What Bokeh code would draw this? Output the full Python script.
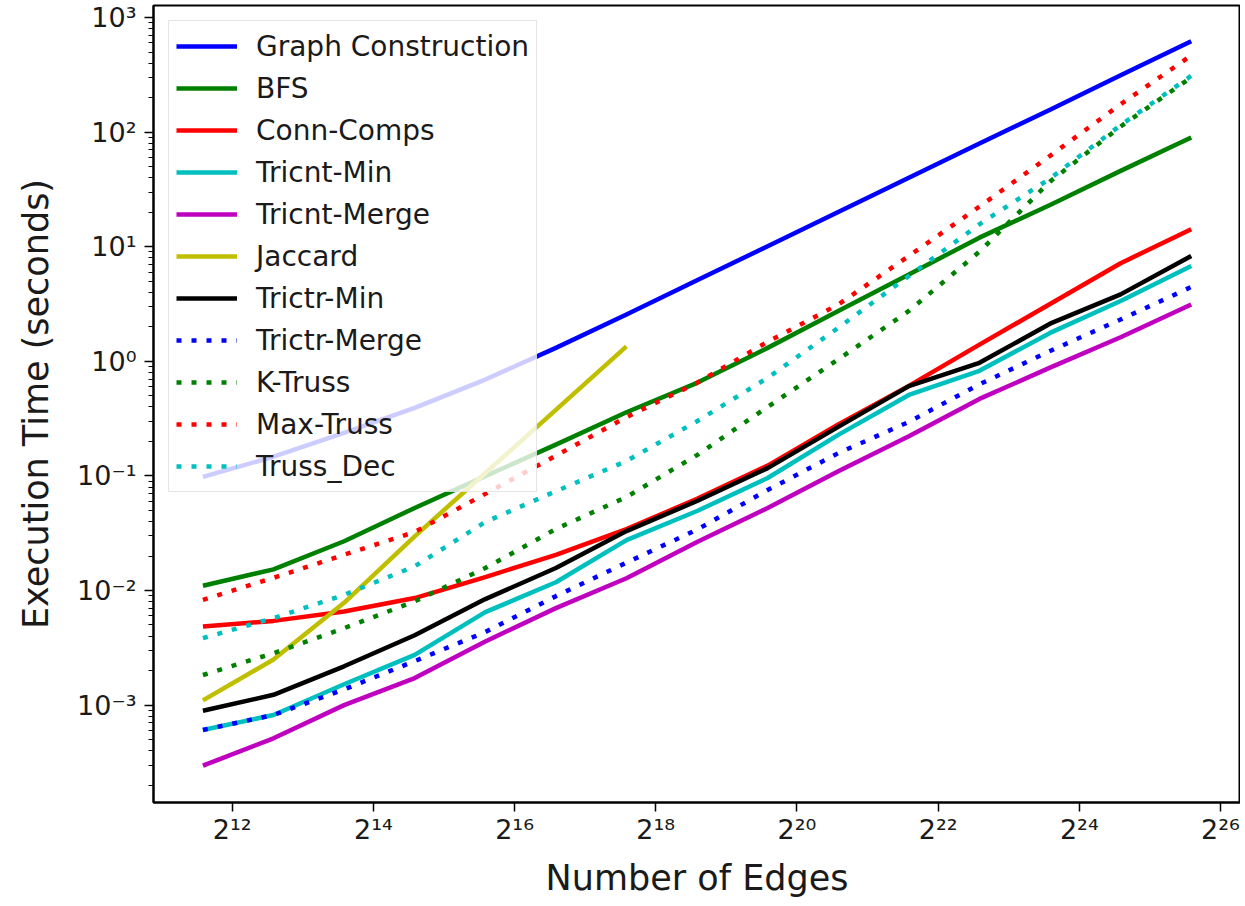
from bokeh.plotting import figure
from bokeh.models import FixedTicker, Legend, LegendItem, Range1d
from bokeh.embed import file_html
from bokeh.resources import INLINE

# ---- data ----
edges = [3072, 6144, 12288, 24576, 49152, 98304, 196608, 393216, 786432,
         1572864, 3145728, 6291456, 12582912, 25165824, 50331648]

graph_construction = [0.098, 0.147, 0.237, 0.393, 0.693, 1.31, 2.56, 5.1, 10.1,
                      20.1, 40.0, 79.5, 157, 314, 621]
bfs = [0.011, 0.0153, 0.0269, 0.0525, 0.0995, 0.1875, 0.359, 0.649, 1.31,
       2.75, 5.73, 12.0, 23.1, 45.9, 89.7]
conn_comps = [0.00485, 0.00543, 0.00656, 0.00859, 0.0131, 0.0205, 0.0344, 0.063,
              0.123, 0.281, 0.61, 1.40, 3.16, 7.18, 14.2]
tricnt_min = [0.000607, 0.00082, 0.00152, 0.00274, 0.00647, 0.0118, 0.0275, 0.0494,
              0.0959, 0.228, 0.509, 0.826, 1.77, 3.36, 6.79]
tricnt_merge = [0.000296, 0.000513, 0.00100, 0.00172, 0.00359, 0.00702, 0.0128, 0.0265,
                0.0525, 0.110, 0.222, 0.47, 0.88, 1.62, 3.13]
jaccard = [0.0011, 0.0025, 0.0078, 0.0297, 0.106, 0.377, 1.35]
trictr_min = [0.000893, 0.00123, 0.00218, 0.00407, 0.00841, 0.0157, 0.033, 0.0604,
              0.117, 0.268, 0.607, 0.97, 2.13, 3.84, 8.3]
trictr_merge = [0.000607, 0.00082, 0.00137, 0.00242, 0.00434, 0.00893, 0.0175, 0.034,
                0.0753, 0.158, 0.296, 0.63, 1.23, 2.32, 4.45]
k_truss = [0.00183, 0.00284, 0.00469, 0.00804, 0.0157, 0.0344, 0.0655, 0.152,
           0.40, 1.04, 2.75, 9.06, 37.0, 112, 300]
max_truss = [0.0083, 0.0129, 0.0205, 0.0324, 0.0697, 0.150, 0.326, 0.649,
             1.48, 3.13, 8.3, 22.4, 62.1, 175, 467]
truss_dec = [0.00384, 0.00574, 0.00916, 0.01626, 0.0396, 0.0735, 0.135, 0.30,
             0.718, 1.96, 5.55, 15.7, 39.4, 115, 310]

x_tick_exps = [12, 14, 16, 18, 20, 22, 24, 26]
x_tick_labels = ["2¹²", "2¹⁴", "2¹⁶", "2¹⁸", "2²⁰", "2²²", "2²⁴", "2²⁶"]
y_ticks = [1e-3, 1e-2, 1e-1, 1.0, 10.0, 100.0, 1000.0]
y_tick_labels = ["10⁻³", "10⁻²", "10⁻¹", "10⁰", "10¹", "10²", "10³"]

series = [
    ("Graph Construction", graph_construction, "#0000ff", None),
    ("BFS", bfs, "#008000", None),
    ("Conn-Comps", conn_comps, "#ff0000", None),
    ("Tricnt-Min", tricnt_min, "#00bfbf", None),
    ("Tricnt-Merge", tricnt_merge, "#bf00bf", None),
    ("Jaccard", jaccard, "#bfbf00", None),
    ("Trictr-Min", trictr_min, "#000000", None),
    ("Trictr-Merge", trictr_merge, "#0000ff", "5 10"),
    ("K-Truss", k_truss, "#008000", "5 10"),
    ("Max-Truss", max_truss, "#ff0000", "5 10"),
    ("Truss_Dec", truss_dec, "#00bfbf", "5 10"),
]

FONT = "DejaVu Sans"

p = figure(width=1240, height=900, x_axis_type="log", y_axis_type="log",
           x_range=Range1d(2 ** 10.885, 2 ** 26.283),
           y_range=Range1d(10 ** -3.85, 10 ** 3.105),
           output_backend="svg", toolbar_location=None,
           min_border_left=153, min_border_right=0, min_border_top=5,
           min_border_bottom=80)

p.background_fill_color = "white"
p.border_fill_color = "white"
p.outline_line_color = "black"
p.outline_line_width = 2
p.xgrid.visible = False
p.ygrid.visible = False

items = []
for name, ys, color, dash in series:
    xs = edges[:len(ys)]
    kw = dict(line_color=color, line_width=4.5, line_join="round")
    if dash:
        kw["line_dash"] = dash
    r = p.line(xs, ys, **kw)
    items.append(LegendItem(label=name, renderers=[r]))

# axes
p.xaxis.ticker = FixedTicker(ticks=[float(2 ** e) for e in x_tick_exps], minor_ticks=[])
p.xaxis.major_label_overrides = {float(2 ** e): lab for e, lab in zip(x_tick_exps, x_tick_labels)}
minor_y = [k * 10.0 ** e for e in range(-4, 4) for k in range(2, 10)]
p.yaxis.ticker = FixedTicker(ticks=y_ticks, minor_ticks=minor_y)
p.yaxis.major_label_overrides = {t: lab for t, lab in zip(y_ticks, y_tick_labels)}

p.xaxis.axis_label = "Number of Edges"
p.yaxis.axis_label = "Execution Time (seconds)"
for ax in (p.xaxis[0], p.yaxis[0]):
    ax.axis_label_text_font = FONT
    ax.axis_label_text_font_size = "35px"
    ax.axis_label_text_font_style = "normal"
    ax.axis_label_text_color = "#1a1a1a"
    ax.major_label_text_font = FONT
    ax.major_label_text_font_size = "27px"
    ax.major_label_text_color = "#1a1a1a"
    ax.axis_line_color = "black"
    ax.axis_line_width = 2
    ax.major_tick_line_color = "black"
    ax.major_tick_line_width = 1.5
    ax.major_tick_out = 9
    ax.major_tick_in = 0
    ax.minor_tick_line_color = "black"
    ax.minor_tick_line_width = 1.2
    ax.minor_tick_out = 5
    ax.minor_tick_in = 0
p.xaxis.major_label_standoff = 2
p.xaxis.axis_label_standoff = 10
p.yaxis.major_label_standoff = 8
p.yaxis.axis_label_standoff = 18

legend = Legend(items=items, location="top_left")
legend.label_text_font = FONT
legend.label_text_font_size = "28px"
legend.label_text_color = "#1a1a1a"
legend.glyph_width = 61
legend.glyph_height = 36
legend.label_height = 36
legend.spacing = 6
legend.padding = 7
legend.margin = 15
legend.label_standoff = 19
legend.border_line_color = "#cccccc"
legend.border_line_width = 1.5
legend.background_fill_color = "white"
legend.background_fill_alpha = 0.8
p.add_layout(legend)

open("out.html", "w").write(file_html(p, INLINE))
